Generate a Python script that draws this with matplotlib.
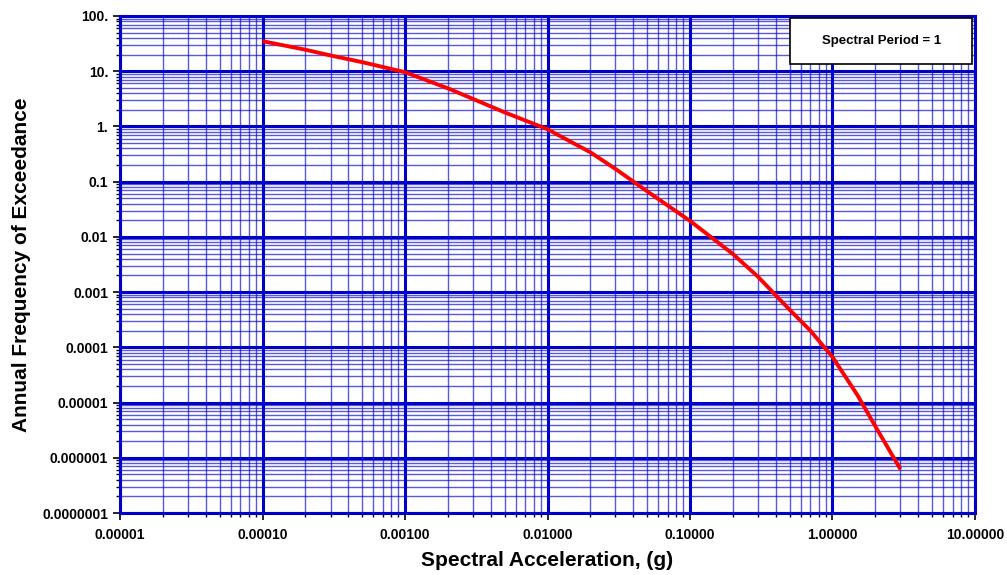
import numpy as np
import matplotlib
matplotlib.use("Agg")
import matplotlib.pyplot as plt
from matplotlib.ticker import LogLocator, FixedLocator, FixedFormatter, NullFormatter
from matplotlib.patches import Rectangle

plt.rcParams['font.family'] = ['Liberation Sans', 'DejaVu Sans']

# hazard curve
accel = [1e-4, 2e-4, 3e-4, 5e-4, 1e-3, 2e-3, 3e-3, 5e-3, 1e-2, 2e-2, 3e-2,
         5e-2, 1e-1, 2e-1, 3e-1, 5e-1, 7e-1, 1.0, 1.5, 2.0, 3.0]
freq = [35, 24.5, 19.3, 14.6, 9.6, 4.9, 3.15, 1.8, 0.89, 0.34, 0.17,
        0.067, 0.0195, 4.9e-3, 1.9e-3, 4.8e-4, 2.0e-4, 6.7e-5, 1.35e-5, 3.7e-6, 6.2e-7]

xticks = [1e-5, 1e-4, 1e-3, 1e-2, 1e-1, 1, 10]
xlabels = ["0.00001", "0.00010", "0.00100", "0.01000", "0.10000", "1.00000", "10.00000"]
yticks = [1e-7, 1e-6, 1e-5, 1e-4, 1e-3, 1e-2, 1e-1, 1, 10, 100]
ylabels = ["0.0000001", "0.000001", "0.00001", "0.0001", "0.001", "0.01", "0.1",
           "1.", "10.", "100."]

blue = "#0000CC"

fig = plt.figure(figsize=(10.07, 5.75), dpi=100)
ax = fig.add_axes([0.1192, 0.1078, 0.849, 0.8644])
ax.set_xscale("log")
ax.set_yscale("log")
ax.set_xlim(1e-5, 10)
ax.set_ylim(1e-7, 100)

ax.xaxis.set_major_locator(FixedLocator(xticks))
ax.xaxis.set_major_formatter(FixedFormatter(xlabels))
ax.yaxis.set_major_locator(FixedLocator(yticks))
ax.yaxis.set_major_formatter(FixedFormatter(ylabels))
ax.xaxis.set_minor_locator(LogLocator(base=10, subs=np.arange(2, 10), numticks=20))
ax.yaxis.set_minor_locator(LogLocator(base=10, subs=np.arange(2, 10), numticks=20))
ax.xaxis.set_minor_formatter(NullFormatter())
ax.yaxis.set_minor_formatter(NullFormatter())

ax.grid(which="major", color=blue, linewidth=2.2)
ax.grid(which="minor", color=blue, linewidth=1.0, alpha=0.65)
ax.set_axisbelow(True)

for s in ax.spines.values():
    s.set_color(blue)
    s.set_linewidth(2.2)

ax.tick_params(which="both", direction="out", color="black", labelsize=10)
ax.tick_params(which="major", length=5, width=1.2)
ax.tick_params(which="minor", length=3, width=1.0)
for lab in ax.get_xticklabels() + ax.get_yticklabels():
    lab.set_fontweight("bold")
ax.tick_params(axis="x", pad=6)

ax.plot(accel, freq, color="red", linewidth=2.8, solid_capstyle="butt", zorder=3)

ax.set_xlabel("Spectral Acceleration, (g)", fontsize=15, fontweight="bold", labelpad=6)
ax.set_ylabel("Annual Frequency of Exceedance", fontsize=15, fontweight="bold", labelpad=8)

box = Rectangle((0.784, 0.903), 0.2125, 0.093, transform=ax.transAxes,
                facecolor="white", edgecolor="black", linewidth=1.2, zorder=4)
ax.add_patch(box)
ax.text(0.784 + 0.2125 / 2, 0.903 + 0.093 / 2, "Spectral Period = 1", transform=ax.transAxes,
        ha="center", va="center", fontsize=9.5, fontweight="bold", zorder=5)

fig.savefig("out.png", dpi=100)
